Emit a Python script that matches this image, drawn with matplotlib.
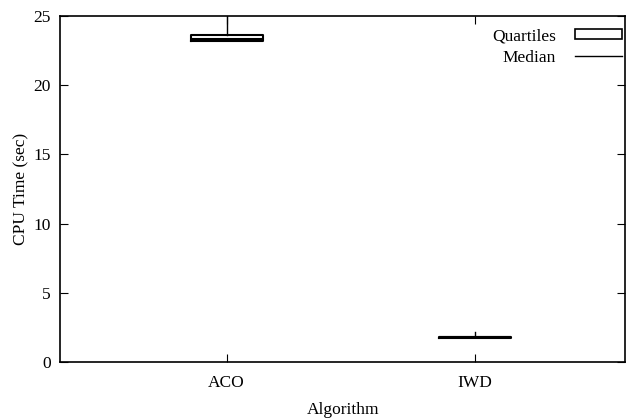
import matplotlib
matplotlib.use("Agg")
import matplotlib.pyplot as plt
from matplotlib.patches import Rectangle
from matplotlib.lines import Line2D

plt.rcParams['font.family'] = ['Liberation Serif', 'DejaVu Serif']

categories = ["ACO", "IWD"]
whislo = [23.2, 1.74]
q1 = [23.22, 1.75]
med = [23.3, 1.78]
q3 = [23.65, 1.82]
whishi = [26.0, 2.15]

fig = plt.figure(figsize=(6.36, 4.19), dpi=100)
ax = fig.add_axes([0.095, 0.136, 0.888, 0.826])

stats = []
for i, c in enumerate(categories):
    stats.append(dict(label=c, whislo=whislo[i], q1=q1[i], med=med[i], q3=q3[i], whishi=whishi[i], fliers=[]))

ax.bxp(stats, positions=[1, 2], widths=0.29, showcaps=False, showfliers=False,
       boxprops=dict(color='black', linewidth=1.5),
       whiskerprops=dict(color='black', linewidth=1.0),
       medianprops=dict(color='black', linewidth=1.5))

ax.set_xlim(0.331, 2.604)
ax.set_ylim(0, 25)
ax.set_yticks([0, 5, 10, 15, 20, 25])
ax.set_xticks([1, 2])
ax.set_xticklabels(categories)
ax.tick_params(direction='in', length=6, width=0.8, labelsize=12.5, top=True, right=True, pad=9)
ax.tick_params(axis='y', pad=7)
for s in ax.spines.values():
    s.set_linewidth(1.2)

ax.set_xlabel("Algorithm", fontsize=12.5, labelpad=8)
ax.set_ylabel("CPU Time (sec)", fontsize=12.5, labelpad=3)

handles = [Rectangle((0, 0), 1, 1, facecolor='white', edgecolor='black', linewidth=1.2),
           Line2D([], [], color='black', linewidth=1.0)]
ax.legend(handles, ["Quartiles", "Median"], loc='upper right', bbox_to_anchor=(1.0, 0.974),
          frameon=False, markerfirst=False,
          fontsize=12.5, handlelength=2.7, handleheight=0.55, borderaxespad=0.1, borderpad=0.1,
          labelspacing=0.3, handletextpad=1.1)

fig.savefig("out.png", dpi=100)
